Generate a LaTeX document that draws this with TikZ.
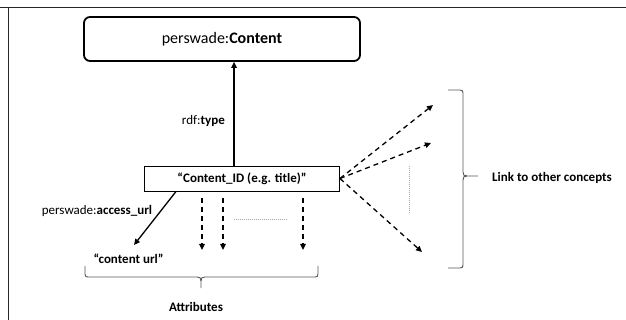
\documentclass[tikz,border=0pt]{standalone}
\usepackage{fontspec}
\setmainfont{Carlito}
\usetikzlibrary{arrows.meta,calc}
\begin{document}
\begin{tikzpicture}[x=1pt,y=-1pt,
  txt/.style={inner sep=0pt,font=\fontsize{13}{15}\selectfont},
  solidarrow/.style={line width=1.3pt,-{Triangle[length=6pt,width=5.5pt]}},
  dasharrow/.style={line width=1.3pt,dash pattern=on 5pt off 4pt,-{Triangle[length=6pt,width=5.5pt]}},
  graydot/.style={draw=gray!70,line width=0.6pt,dash pattern=on 1pt off 1pt},
  bracestyle/.style={draw=gray!70!black,line width=0.9pt}]
\useasboundingbox (0,0) rectangle (626,320);
% frame
\draw[line width=1pt,black!85] (0,7.5) -- (626,7.5);
\draw[line width=1pt,black!85] (8,7.5) -- (8,320);
% nodes
\node[draw,line width=1.8pt,rounded corners=6pt,minimum width=276pt,minimum height=44pt,inner sep=0pt,font=\fontsize{16}{18}\selectfont] (content) at (222,39) {perswade:\textbf{Content}};
\node[draw,line width=0.9pt,minimum width=195pt,minimum height=25pt,inner sep=0pt,font=\fontsize{13}{15}\selectfont\bfseries] (cid) at (242,178.5) {“Content\_ID (e.g. title)”};
\node[txt,anchor=east] (rdf) at (225,121) {rdf:\textbf{type}};
\node[txt] (acc) at (97,211) {perswade:\textbf{access\_url}};
\node[txt,font=\fontsize{13}{15}\selectfont\bfseries] (url) at (128.5,259) {“content url”};
\node[txt,font=\fontsize{13}{15}\selectfont\bfseries] (attr) at (196,307) {Attributes};
\node[txt,font=\fontsize{13}{15}\selectfont\bfseries,anchor=west] (link) at (492,178) {Link to other concepts};
% type arrow
\coordinate (ta) at ($(cid.north)+(-8,0)$);
\draw[solidarrow] (ta) -- (ta |- content.south);
% access_url
\coordinate (ua) at ($(cid.south west)+(32,0)$);
\coordinate (ub) at (134,245);
\draw[solidarrow] (ua) -- (ub);
% attribute arrows
\coordinate (a1s) at (202,198); \coordinate (a1e) at (202,250);
\coordinate (a2s) at (223,198); \coordinate (a2e) at (223,250);
\coordinate (a3s) at (303,198); \coordinate (a3e) at (303,250);
\draw[dasharrow] (a1s) -- (a1e);
\draw[dasharrow] (a2s) -- (a2e);
\draw[dasharrow] (a3s) -- (a3e);
\coordinate (h1) at (234,219); \coordinate (h2) at (288,219);
\draw[graydot] (h1) -- (h2);
% links
\coordinate (l1) at (433,105);
\coordinate (l2) at (431,143);
\coordinate (l3) at (422,252);
\draw[dasharrow] (cid.east) -- (l1);
\draw[dasharrow] (cid.east) -- (l2);
\draw[dasharrow] (cid.east) -- (l3);
\coordinate (v1) at (409,166); \coordinate (v2) at (409,214);
\draw[graydot] (v1) -- (v2);
% bottom brace
\draw[bracestyle] (85,266) -- (85,274) .. controls (85,276.5) and (86,277) .. (88,277) -- (197,277) .. controls (200,277) and (201,278) .. (201,281) -- (201,288);
\draw[bracestyle] (318,266) -- (318,274) .. controls (318,276.5) and (317,277) .. (315,277) -- (205,277) .. controls (202,277) and (201,278) .. (201,281);
% right brace
\draw[bracestyle] (448,90) -- (460,90) .. controls (462.5,90) and (463,91) .. (463,93) -- (463,172) .. controls (463,175) and (464,176) .. (467,176) -- (478,176);
\draw[bracestyle] (448,268) -- (460,268) .. controls (462.5,268) and (463,267) .. (463,265) -- (463,180) .. controls (463,177) and (464,176) .. (467,176);
\end{tikzpicture}
\end{document}
